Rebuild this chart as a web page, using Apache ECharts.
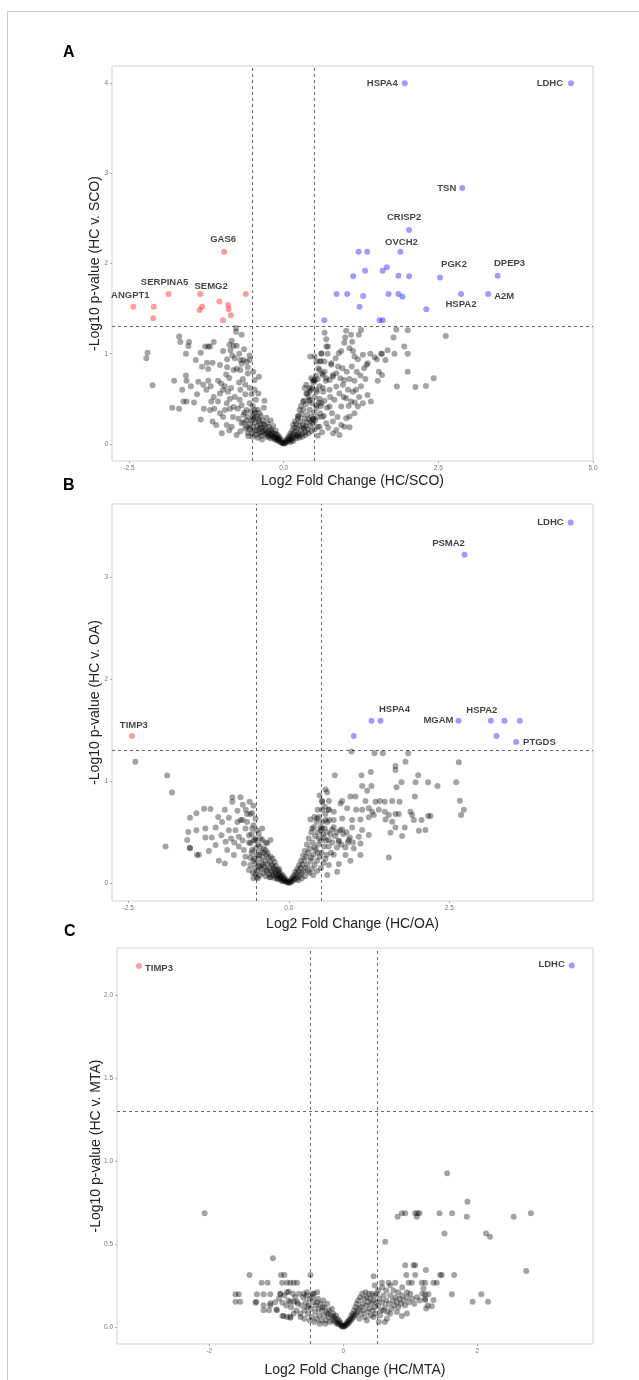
<!DOCTYPE html>
<html><head><meta charset="utf-8">
<script src="https://cdn.jsdelivr.net/npm/echarts@6/dist/echarts.min.js"></script>
<style>html,body{margin:0;padding:0;background:#fff}#c{width:639px;height:1380px}</style>
</head><body><div id="c"></div>
<script>
// ---------------- DATA ----------------
const FC_CUT = 0.5;
const P_CUT = 1.301;

const aXTicks = [-2.5, 0, 2.5, 5];
const aYTicks = [0, 1, 2, 3, 4];
const bXTicks = [-2.5, 0, 2.5];
const bYTicks = [0, 1, 2, 3];
const cXTicks = [-2, 0, 2];
const cYTicks = [0, 0.5, 1, 1.5, 2];

const aGray = [
[-2.20,1.01],[-2.22,0.95],[-2.12,0.65],[-1.69,1.19],[-1.67,1.13],[-1.53,1.13],[-1.54,1.086],[-1.58,1.0],[-1.42,0.93],[-1.34,1.01],[-1.27,1.08],[-1.22,1.08],[-1.19,1.08],[-1.13,1.13],[-1.32,0.857],[-1.24,0.90],[-1.15,0.90],[-1.22,0.83],[-1.03,0.876],
[-0.914,0.94],[-0.79,0.95],[-0.86,1.04],[-0.876,1.10],[-0.81,1.09],[-0.76,1.09],[-0.84,1.145],[-0.77,1.245],[-0.77,1.285],[-0.68,1.21],
[-0.914,0.85],[-0.81,0.82],[-0.76,0.835],[-0.70,0.82],[-0.65,0.93],[-0.60,0.91],[-0.55,0.93],[-0.68,0.89],[-0.70,0.93],
[-0.49,0.80],[-0.47,0.71],[-0.40,0.745],[-0.47,0.60],[-0.41,0.56],[-0.31,0.48],
[-1.77,0.70],[-1.57,0.70],[-1.58,0.76],[-1.38,0.69],[-1.30,0.655],[-1.22,0.70],[-1.18,0.64],[-1.06,0.70],[-1.01,0.67],[-0.95,0.64],
[-1.62,0.47],[-1.57,0.47],[-1.45,0.46],[-1.80,0.40],[-1.69,0.39],[-1.34,0.27],[-1.29,0.39],
[-1.17,0.47],[-1.13,0.52],[-1.03,0.56],[-1.06,0.47],[-1.12,0.39],
[-1.19,0.377],[-1.03,0.34],[-0.95,0.377],[-0.87,0.39],[-0.81,0.41],[-0.74,0.39],[-0.68,0.43],[-0.71,0.49],[-0.79,0.52],[-0.87,0.50],
[-1.09,0.21],[-1.00,0.12],[-0.92,0.21],[-0.84,0.19],[-0.76,0.10],[-0.68,0.23],[-0.60,0.19],[-0.57,0.085],
[-0.60,0.377],[-0.55,0.45],[-0.49,0.27],[-0.47,0.377],[-0.44,0.30],[-0.39,0.34],
[-0.98,0.60],[-0.90,0.58],[-0.85,0.62],[-0.62,0.66],[-0.66,0.72],[-0.58,0.78],[-0.55,0.62],[-0.52,0.55],[-0.62,0.55],[-0.70,0.60],[-0.72,0.68],[-0.88,0.73],[-0.93,0.77],[-0.83,0.98],[-0.72,1.00],[-0.64,1.05],[-0.98,1.03],[-0.55,0.98],[-0.58,0.85],[-0.92,0.45],[-0.98,0.30],[-0.82,0.30],[-0.73,0.28],[-0.65,0.32],[-0.88,0.15],[-0.70,0.14],[-1.15,0.25],[-1.25,0.60],[-1.40,0.55],[-1.50,0.64],[-1.64,0.60],
[-0.58,0.30],[-0.56,0.22],[-0.55,0.16],[-0.53,0.36],[-0.52,0.26],[-0.51,0.12],[-0.50,0.42],[-0.49,0.19],[-0.48,0.32],[-0.47,0.14],[-0.46,0.24],[-0.45,0.49],[-0.44,0.10],[-0.43,0.20],[-0.42,0.38],[-0.41,0.28],[-0.40,0.16],[-0.39,0.12],[-0.38,0.22],[-0.37,0.31],[-0.36,0.09],[-0.35,0.18],[-0.34,0.26],[-0.33,0.14],[-0.32,0.40],[-0.31,0.21],[-0.30,0.11],[-0.29,0.17],[-0.28,0.29],[-0.27,0.08],[-0.26,0.23],[-0.25,0.13],[-0.24,0.19],[-0.23,0.07],[-0.22,0.15],[-0.21,0.26],[-0.20,0.10],[-0.19,0.06],[-0.18,0.13],[-0.17,0.20],[-0.16,0.08],[-0.15,0.11],[-0.14,0.05],[-0.13,0.15],[-0.12,0.07],[-0.11,0.04],[-0.10,0.10],[-0.09,0.06],[-0.08,0.03],[-0.07,0.08],[-0.06,0.04],[-0.05,0.02],[-0.04,0.05],[-0.03,0.02],[-0.02,0.01],[-0.01,0.005],
[-0.54,0.18],[-0.50,0.30],[-0.46,0.35],[-0.44,0.15],[-0.40,0.25],[-0.38,0.18],[-0.36,0.13],[-0.33,0.22],[-0.30,0.15],[-0.27,0.12],[-0.25,0.09],[-0.22,0.11],[-0.20,0.16],[-0.18,0.09],[-0.15,0.07],[-0.12,0.11],[-0.10,0.05],[-0.08,0.06],[-0.35,0.05],[-0.42,0.07],[-0.50,0.08],[-0.58,0.12],[-0.62,0.17],[-0.65,0.24],[-0.63,0.35],[-0.60,0.26],
[0.01,0.005],[0.02,0.01],[0.03,0.03],[0.04,0.02],[0.05,0.05],[0.06,0.03],[0.07,0.07],[0.08,0.04],[0.09,0.09],[0.10,0.06],[0.11,0.12],[0.12,0.05],[0.13,0.09],[0.14,0.15],[0.15,0.07],[0.16,0.11],[0.17,0.18],[0.18,0.08],[0.19,0.14],[0.20,0.22],[0.21,0.10],[0.22,0.17],[0.23,0.28],[0.24,0.12],[0.25,0.20],[0.26,0.09],[0.27,0.25],[0.28,0.15],[0.29,0.33],[0.30,0.11],[0.31,0.21],[0.32,0.38],[0.33,0.17],[0.34,0.28],[0.35,0.13],[0.36,0.44],[0.37,0.24],[0.38,0.32],[0.39,0.16],[0.40,0.52],[0.41,0.27],[0.42,0.38],[0.43,0.20],[0.44,0.60],[0.45,0.30],[0.46,0.45],[0.47,0.23],[0.48,0.68],[0.49,0.35],[0.50,0.52],[0.51,0.26],[0.52,0.76],[0.53,0.40],[0.54,0.58],[0.55,0.30],[0.56,0.84],[0.57,0.46],[0.58,0.64],[0.59,0.34],[0.60,0.92],
[0.15,0.03],[0.20,0.06],[0.25,0.07],[0.30,0.08],[0.35,0.10],[0.40,0.12],[0.45,0.14],[0.50,0.16],[0.55,0.19],[0.18,0.25],[0.24,0.31],[0.28,0.42],[0.33,0.48],[0.38,0.56],[0.42,0.48],[0.46,0.62],[0.50,0.70],[0.55,0.72],[0.58,0.50],[0.60,0.42],[0.62,0.30],[0.64,0.58],[0.66,0.48],[0.68,0.70],[0.62,0.78],[0.10,0.02],[0.13,0.04],[0.22,0.09],[0.32,0.18],[0.36,0.20],[0.44,0.25],[0.48,0.28],
[0.661,1.234],[0.688,1.16],[0.715,1.08],[0.608,1.005],[0.66,0.913],[0.58,0.913],[0.769,0.894],[0.796,0.765],[0.85,0.784],[0.742,0.71],[0.661,0.80],[0.50,0.97],[0.58,0.82],[0.473,0.71],[0.419,0.62],[0.366,0.56],
[0.69,1.08],[0.61,1.0],[0.71,1.0],[0.43,0.97],[0.53,0.913],
[1.01,1.256],[0.995,1.18],[1.09,1.21],[1.215,1.21],[1.25,1.264],[1.107,1.134],[0.98,1.123],
[0.93,1.03],[0.89,1.005],[0.84,0.95],[0.77,0.877],[1.065,1.06],[1.12,1.03],[1.145,0.97],[1.2,0.94],[1.28,0.99],[1.40,1.0],[1.36,0.894],[1.34,0.877],[1.30,0.84],[1.47,0.96],[1.505,0.94],[1.575,1.0],[1.645,0.93],[1.68,1.04],[1.59,1.0],
[1.82,1.27],[1.775,1.18],[2.005,1.26],[1.95,1.08],[2.005,1.0],[1.79,1.0],[2.62,1.197],[2.425,0.728],[2.30,0.643],[2.13,0.63],[1.83,0.636],[2.005,0.80],
[1.54,0.80],[1.59,0.765],[1.52,0.70],[1.32,0.72],[1.145,0.70],[1.065,0.72],[0.98,0.71],[0.914,0.728],[0.796,0.745],[0.688,0.728],[0.634,0.765],[0.50,0.71],[0.446,0.728],[0.366,0.655],[0.34,0.62],[0.42,0.58],[0.527,0.60],[0.634,0.62],[0.742,0.60],[0.85,0.636],[0.957,0.655],[1.04,0.60],[1.12,0.58],[1.17,0.60],
[1.355,0.543],[1.41,0.47],[1.28,0.45],[1.2,0.414],[1.09,0.47],[1.01,0.507],[0.93,0.414],[0.82,0.49],[0.742,0.414],[0.61,0.45],[0.527,0.43],[0.42,0.49],[0.312,0.47],
[1.145,0.34],[1.065,0.303],[1.01,0.285],[0.93,0.21],[0.98,0.19],[1.065,0.186],[0.85,0.156],[0.796,0.248],[0.688,0.23],[0.58,0.19],[0.473,0.267],[0.258,0.377],[0.23,0.303],[0.151,0.21],
[0.88,0.86],[0.95,0.84],[1.02,0.80],[1.10,0.86],[1.18,0.80],[1.24,0.76],[0.90,0.56],[0.97,0.52],[1.05,0.42],[1.15,0.46],[1.22,0.52],[1.25,0.64],[0.75,0.52],[0.70,0.40],[0.78,0.34],[0.87,0.30],[0.65,0.31],[0.72,0.18],[0.62,0.13],[0.55,0.09],[0.80,0.12],[0.90,0.10]
];
const aRed = [
[-0.962,2.132,'GAS6'],[-2.43,1.522,'ANGPT1'],[-2.10,1.52],[-2.11,1.393],[-1.86,1.663,'SERPINA5'],[-1.35,1.663,'SEMG2'],[-1.32,1.52],[-1.36,1.486],[-1.04,1.578],[-0.898,1.541],[-0.89,1.493],[-0.855,1.427],[-0.98,1.371],[-0.613,1.663]
];
const aBlue = [
[4.645,4.0,'LDHC'],[1.957,4.0,'HSPA4'],[2.887,2.838,'TSN'],[2.027,2.372,'CRISP2'],[1.887,2.132,'OVCH2'],[1.21,2.13],[1.35,2.13],[2.527,1.844,'PGK2'],[3.457,1.866,'DPEP3'],[2.866,1.663,'HSPA2'],[3.306,1.663,'A2M'],
[1.124,1.859],[1.317,1.921],[1.60,1.92],[1.667,1.959],[1.855,1.866],[2.027,1.859],[0.855,1.663],[1.027,1.663],[1.285,1.641],[1.694,1.663],[1.855,1.663],[1.919,1.633],[1.226,1.522],[2.306,1.493],[0.656,1.371],[1.548,1.371],[1.60,1.371]
];

const bGray = [
[-2.39,1.19],[-1.895,1.056],[-1.82,0.89],[-1.92,0.36],
[-1.54,0.643],[-1.44,0.686],[-1.22,0.728],[-0.997,0.72],[-0.88,0.842],[-0.753,0.842],[-0.88,0.80],[-0.61,0.80],[-0.717,0.77],
[-1.565,0.502],[-1.44,0.52],[-1.30,0.537],[-1.14,0.547],[-1.04,0.60],[-0.934,0.643],[-0.80,0.71],[-0.67,0.72],[-0.57,0.69],[-0.52,0.636],
[-1.583,0.424],[-1.54,0.349],[-1.40,0.28],[-1.245,0.316],[-1.09,0.22],[-0.997,0.195],[-1.14,0.376],[-0.986,0.408],[-0.934,0.52],[-0.83,0.52],[-0.779,0.457],[-0.675,0.537],[-0.57,0.537],
[-0.96,0.327],[-0.856,0.278],[-0.779,0.36],[-0.70,0.327],[-0.597,0.392],[-0.52,0.424],[-0.467,0.49],[-0.415,0.537],
[-0.415,0.424],[-0.337,0.392],[-0.285,0.424],[-0.363,0.327],[-0.467,0.278],[-0.57,0.327],[-0.675,0.26],[-0.70,0.195],[-0.62,0.13],[-0.52,0.098],
[-1.20,0.45],[-1.05,0.47],[-0.90,0.44],[-0.75,0.62],[-0.65,0.60],[-0.62,0.47],[-0.55,0.57],[-0.50,0.52],[-0.45,0.36],[-0.40,0.30],[-0.55,0.22],[-0.60,0.25],[-0.72,0.42],[-0.85,0.40],[-0.65,0.68],[-0.72,0.62],[-1.10,0.65],[-1.30,0.45],[-0.80,0.60],[-0.55,0.76],[-0.60,0.68],
[-1.54,0.343],[-1.43,0.278],[-1.32,0.73],
[-0.60,0.18],[-0.58,0.30],[-0.56,0.10],[-0.55,0.42],[-0.54,0.24],[-0.53,0.15],[-0.52,0.34],[-0.51,0.20],[-0.50,0.28],[-0.49,0.12],[-0.48,0.38],[-0.47,0.17],[-0.46,0.24],[-0.45,0.08],[-0.44,0.31],[-0.43,0.14],[-0.42,0.20],[-0.41,0.26],[-0.40,0.10],[-0.39,0.34],[-0.38,0.16],[-0.37,0.22],[-0.36,0.07],[-0.35,0.28],[-0.34,0.13],[-0.33,0.19],[-0.32,0.25],[-0.31,0.09],[-0.30,0.15],[-0.29,0.21],[-0.28,0.06],[-0.27,0.12],[-0.26,0.18],[-0.25,0.24],[-0.24,0.08],[-0.23,0.14],[-0.22,0.05],[-0.21,0.11],[-0.20,0.17],[-0.19,0.07],[-0.18,0.13],[-0.17,0.04],[-0.16,0.09],[-0.15,0.14],[-0.14,0.05],[-0.13,0.10],[-0.12,0.03],[-0.11,0.07],[-0.10,0.04],[-0.09,0.08],[-0.08,0.03],[-0.07,0.05],[-0.06,0.02],[-0.05,0.04],[-0.04,0.02],[-0.03,0.01],[-0.02,0.02],[-0.01,0.005],
[-0.62,0.40],[-0.58,0.48],[-0.52,0.44],[-0.48,0.05],[-0.44,0.44],[-0.40,0.18],[-0.36,0.40],[-0.33,0.30],[-0.30,0.06],[-0.28,0.26],[-0.26,0.10],[-0.24,0.16],[-0.22,0.21],[-0.20,0.09],[-0.18,0.05],[-0.16,0.12],[-0.14,0.08],[-0.12,0.06],[-0.10,0.02],[-0.35,0.12],[-0.45,0.16],[-0.50,0.06],[-0.55,0.05],
[0.01,0.005],[0.02,0.02],[0.03,0.01],[0.04,0.04],[0.05,0.02],[0.06,0.06],[0.07,0.03],[0.08,0.08],[0.09,0.05],[0.10,0.11],[0.11,0.04],[0.12,0.09],[0.13,0.14],[0.14,0.06],[0.15,0.12],[0.16,0.18],[0.17,0.08],[0.18,0.15],[0.19,0.22],[0.20,0.10],[0.21,0.18],[0.22,0.27],[0.23,0.12],[0.24,0.22],[0.25,0.32],[0.26,0.15],[0.27,0.26],[0.28,0.38],[0.29,0.18],[0.30,0.30],[0.31,0.44],[0.32,0.10],[0.33,0.34],[0.34,0.22],[0.35,0.50],[0.36,0.14],[0.37,0.40],[0.38,0.28],[0.39,0.55],[0.40,0.18],[0.41,0.46],[0.42,0.33],[0.43,0.60],[0.44,0.22],[0.45,0.50],[0.46,0.38],[0.47,0.65],[0.48,0.26],[0.49,0.55],[0.50,0.42],[0.51,0.30],[0.52,0.60],[0.53,0.48],[0.54,0.20],[0.55,0.36],[0.56,0.54],[0.57,0.68],[0.58,0.42],[0.59,0.28],[0.60,0.60],
[0.15,0.03],[0.20,0.05],[0.25,0.07],[0.30,0.12],[0.35,0.25],[0.40,0.35],[0.45,0.30],[0.50,0.52],[0.55,0.45],[0.60,0.50],[0.38,0.08],[0.44,0.12],[0.50,0.15],[0.57,0.24],[0.62,0.36],[0.65,0.48],[0.68,0.40],[0.70,0.55],[0.63,0.62],[0.66,0.30],[0.72,0.46],[0.75,0.50],[0.78,0.42],[0.80,0.52],[0.85,0.48],[0.90,0.50],[0.95,0.45],[0.70,0.28],[0.75,0.35],[0.82,0.38],[0.88,0.35],[0.92,0.40],[1.0,0.40],[0.45,0.72],[0.52,0.80],[0.48,0.86],[0.56,0.75],[0.40,0.65],[0.62,0.72],
[0.976,1.29],[1.335,1.273],[1.464,1.273],[1.859,1.273],[1.817,1.19],[1.661,1.149],[1.661,1.11],[2.648,1.186],[2.607,0.99],[2.664,0.81],[2.726,0.72],[2.684,0.669],
[0.717,1.058],[1.132,1.058],[1.277,1.09],[2.015,1.058],[1.973,0.99],[2.17,0.99],[2.316,0.953],[1.755,0.99],[1.677,0.94],[1.142,0.953],[1.287,0.953],[1.22,0.907],
[0.571,0.92],[0.597,0.891],[0.519,0.806],[0.623,0.806],[0.831,0.806],[0.805,0.783],[0.96,0.85],[1.038,0.85],[1.194,0.806],[1.35,0.80],[1.417,0.806],[1.495,0.80],[1.61,0.806],[1.724,0.80],[1.963,0.85],
[0.519,0.72],[0.623,0.72],[0.70,0.70],[0.908,0.736],[1.048,0.72],[1.142,0.72],[1.246,0.736],[1.298,0.70],[1.402,0.72],[1.495,0.70],[1.558,0.669],[1.661,0.679],[1.713,0.679],[1.895,0.70],[1.921,0.669],[1.947,0.62],[2.067,0.62],[2.17,0.66],[2.207,0.66],
[0.337,0.626],[0.441,0.636],[0.571,0.62],[0.70,0.62],[0.831,0.636],[0.986,0.62],[1.116,0.626],[1.246,0.646],[1.324,0.669],[1.506,0.626],[1.61,0.604],[1.661,0.548],[1.584,0.496],[1.765,0.463],[1.806,0.548],[2.025,0.516],[2.128,0.522],
[0.363,0.538],[0.519,0.538],[0.675,0.528],[0.831,0.528],[0.986,0.548],[1.142,0.522],[1.246,0.473],[1.09,0.457],[0.934,0.424],[0.779,0.408],[0.623,0.424],[0.467,0.441],[1.116,0.391],[1.012,0.342],[0.883,0.277],[1.116,0.277],[0.96,0.22],[0.779,0.189],[0.623,0.179],[0.753,0.114],[1.558,0.254],[0.60,0.081]
];
const bRed = [[-2.445,1.443,'TIMP3']];
const bBlue = [
[4.39,3.535,'LDHC'],[2.737,3.218,'PSMA2'],[1.288,1.593],[1.428,1.593,'HSPA4'],[2.643,1.593,'MGAM'],[3.146,1.593,'HSPA2'],[3.36,1.593],[3.598,1.593],[3.235,1.443],[3.54,1.384,'PTGDS'],[1.012,1.443]
];

const cGray = [
[-2.07,0.685],[-1.05,0.414],[-1.40,0.313],[-0.49,0.313],[-0.93,0.313],[-0.88,0.313],
[-1.22,0.267],[-1.13,0.267],[-0.913,0.267],[-0.84,0.267],[-0.79,0.267],[-0.74,0.267],[-0.69,0.267],
[-1.61,0.197],[-1.56,0.197],[-1.61,0.152],[-1.54,0.152],
[-1.31,0.146],[-1.29,0.197],[-1.19,0.197],[-1.19,0.102],[-1.09,0.143],[-1.11,0.102],[-1.09,0.197],[-0.94,0.197],[-0.91,0.146],[-0.99,0.102],[-0.815,0.213],[-0.74,0.152],[-0.79,0.062],[-0.89,0.066],
[-1.30,0.152],[-1.19,0.132],[-1.09,0.132],[-1.0,0.106],[-0.91,0.066],[-0.84,0.06],[-0.79,0.056],[-0.74,0.082],[-0.64,0.06],[-0.94,0.2],[-0.84,0.21],[-0.79,0.152],[-0.69,0.152],[-0.59,0.2],[-0.54,0.21],[-0.46,0.2],[-0.39,0.21],
[-0.62,0.13],[-0.60,0.18],[-0.58,0.10],[-0.56,0.15],[-0.55,0.19],[-0.53,0.08],[-0.52,0.13],[-0.50,0.17],[-0.48,0.11],[-0.47,0.06],[-0.45,0.15],[-0.44,0.20],[-0.42,0.09],[-0.41,0.13],[-0.40,0.05],[-0.38,0.17],[-0.37,0.11],[-0.36,0.07],[-0.34,0.14],[-0.33,0.04],[-0.32,0.10],[-0.30,0.16],[-0.29,0.07],[-0.28,0.12],[-0.26,0.04],[-0.25,0.09],[-0.24,0.14],[-0.22,0.06],[-0.21,0.10],[-0.20,0.03],[-0.18,0.07],[-0.17,0.11],[-0.16,0.04],[-0.15,0.08],[-0.13,0.05],[-0.12,0.03],[-0.11,0.07],[-0.10,0.02],[-0.09,0.05],[-0.08,0.03],[-0.07,0.02],[-0.06,0.04],[-0.05,0.015],[-0.04,0.025],[-0.03,0.01],[-0.02,0.005],[-0.01,0.003],
[-0.66,0.20],[-0.64,0.08],[-0.68,0.14],[-0.70,0.10],[-0.72,0.18],[-0.75,0.20],[-0.78,0.12],[-0.82,0.16],[-0.85,0.13],[-0.88,0.19],[-0.96,0.17],[-1.02,0.15],[-0.58,0.05],[-0.50,0.04],[-0.43,0.03],[-0.35,0.02],[-0.27,0.02],[-0.54,0.12],[-0.46,0.18],[-0.39,0.15],[-0.31,0.12],[-0.23,0.08],[-0.14,0.06],
[0.01,0.003],[0.02,0.006],[0.03,0.01],[0.04,0.02],[0.05,0.015],[0.06,0.03],[0.07,0.02],[0.08,0.04],[0.09,0.03],[0.10,0.05],[0.11,0.04],[0.12,0.07],[0.13,0.05],[0.14,0.08],[0.15,0.06],[0.16,0.10],[0.17,0.07],[0.18,0.12],[0.19,0.08],[0.20,0.14],[0.21,0.09],[0.22,0.16],[0.23,0.11],[0.24,0.05],[0.25,0.18],[0.26,0.12],[0.27,0.08],[0.28,0.20],[0.29,0.14],[0.30,0.10],[0.31,0.17],[0.32,0.06],[0.33,0.21],[0.34,0.13],[0.35,0.18],[0.36,0.09],[0.37,0.15],[0.38,0.20],[0.39,0.11],[0.40,0.17],[0.41,0.07],[0.42,0.14],[0.43,0.20],[0.44,0.10],[0.45,0.16],[0.46,0.19],[0.47,0.12],[0.48,0.08],[0.49,0.15],[0.50,0.20],[0.52,0.13],[0.54,0.17],[0.56,0.10],[0.58,0.15],[0.60,0.19],[0.62,0.12],[0.64,0.16],[0.66,0.09],[0.68,0.14],[0.70,0.19],[0.72,0.11],[0.74,0.16],[0.76,0.13],[0.78,0.18],[0.80,0.15],[0.82,0.12],[0.84,0.17],[0.86,0.14],[0.88,0.19],[0.90,0.16],[0.92,0.13],[0.95,0.18],[0.98,0.15],[1.00,0.20],[1.03,0.17],[1.06,0.14],[1.10,0.18],[1.14,0.16],[1.18,0.20],[1.22,0.17],[1.26,0.13],
[0.35,0.04],[0.45,0.06],[0.55,0.07],[0.65,0.05],[0.52,0.22],[0.58,0.24],[0.64,0.22],[0.70,0.25],[0.75,0.22],[0.82,0.21],[0.88,0.24],[0.95,0.21],[0.60,0.10],[0.70,0.08],[0.80,0.09],[0.47,0.25],[0.53,0.03],[0.62,0.03],
[0.626,0.514],[0.81,0.665],[0.874,0.685],[0.924,0.685],[1.073,0.685],[1.108,0.685],[1.137,0.685],[1.098,0.665],[1.436,0.685],[1.625,0.685],[1.843,0.665],[2.543,0.665],[2.80,0.685],[1.55,0.926],[1.853,0.755],[1.51,0.564],[2.13,0.564],[2.19,0.544],[2.73,0.337],
[0.924,0.373],[1.073,0.373],[1.048,0.373],[1.232,0.343],[0.94,0.313],[1.073,0.313],[1.47,0.313],[1.655,0.313],[1.446,0.313],
[0.676,0.267],[0.775,0.267],[0.974,0.267],[1.023,0.267],[1.172,0.267],[1.222,0.267],[1.346,0.267],[1.395,0.267],[0.576,0.267],[0.452,0.306],
[1.62,0.197],[1.93,0.152],[2.06,0.197],[2.16,0.152],
[1.197,0.233],[1.222,0.197],[1.27,0.197],[1.346,0.163],[1.222,0.163],[1.32,0.126],[1.237,0.112],[0.874,0.066],[0.949,0.082]
];
const cRed = [[-3.05,2.175,'TIMP3']];
const cBlue = [[3.41,2.177,'LDHC']];

// ---------------- STYLES ----------------
const FONT = 'Liberation Sans, Arial, Helvetica, sans-serif';
const labelPlace = {
  A: {
    LDHC:{position:'left',distance:5}, HSPA4:{position:'left',distance:4}, TSN:{position:'left',distance:3},
    CRISP2:{position:'top',offset:[-5,0]}, OVCH2:{position:'top',offset:[1,4]}, PGK2:{position:'top',offset:[14,0]},
    DPEP3:{position:'top',offset:[12,1]}, HSPA2:{position:'bottom',offset:[0,-3]}, A2M:{position:'right',distance:3,offset:[0,2]},
    GAS6:{position:'top',offset:[-1,1]}, SERPINA5:{position:'top',offset:[-4,1]}, SEMG2:{position:'top',offset:[11,5]},
    ANGPT1:{position:'top',offset:[-3,2]}
  },
  B: {
    LDHC:{position:'left',distance:4}, PSMA2:{position:'top',offset:[-16,2]}, HSPA4:{position:'top',offset:[14,2]},
    MGAM:{position:'left',distance:2}, HSPA2:{position:'top',offset:[-9,3]}, PTGDS:{position:'right',distance:4},
    TIMP3:{position:'top',offset:[2,2]}
  },
  C: {
    TIMP3:{position:'right',distance:3,offset:[0,2]}, LDHC:{position:'left',distance:4,offset:[0,-1]}
  }
};

function toData(arr, panel) {
  return arr.map(p => {
    const d = {value:[p[0], p[1]]};
    if (p[2]) {
      d.name = p[2];
      d.label = Object.assign({show:true, formatter:p[2], fontSize:9.5, fontWeight:'bold', color:'#111', fontFamily:FONT}, labelPlace[panel][p[2]]);
    }
    return d;
  });
}

const panels = [
  {key:'A', gray:aGray, red:aRed, blue:aBlue, xt:aXTicks, yt:aYTicks, xmin:-2.775, xmax:5.0, ymin:-0.189, ymax:4.19,
   grid:{left:112, top:66, width:481, height:395}, xname:'Log2 Fold Change (HC/SCO)', yname:'-Log10 p-value (HC v. SCO)', xfmt:v=>v.toFixed(1), yfmt:v=>String(v), xgap:13, ygap:10},
  {key:'B', gray:bGray, red:bRed, blue:bBlue, xt:bXTicks, yt:bYTicks, xmin:-2.754, xmax:4.738, ymin:-0.173, ymax:3.715,
   grid:{left:112, top:504, width:481, height:397}, xname:'Log2 Fold Change (HC/OA)', yname:'-Log10 p-value (HC v. OA)', xfmt:v=>v.toFixed(1), yfmt:v=>String(v), xgap:16, ygap:10},
  {key:'C', gray:cGray, red:cRed, blue:cBlue, xt:cXTicks, yt:cYTicks, xmin:-3.378, xmax:3.727, ymin:-0.102, ymax:2.283,
   grid:{left:117, top:948, width:476, height:396}, xname:'Log2 Fold Change (HC/MTA)', yname:'-Log10 p-value (HC v. MTA)', xfmt:v=>String(v), yfmt:v=>v.toFixed(1), xgap:19, ygap:14}
];

const grids = [], xAxes = [], yAxes = [], series = [];
const tickLbl = {fontSize:6.5, color:'#777', fontFamily:FONT};
const nameStyle = {fontSize:14, color:'#222', fontFamily:FONT};
panels.forEach((p, i) => {
  grids.push(Object.assign({show:true, borderColor:'#d2d2d2', borderWidth:1, backgroundColor:'#fff'}, p.grid));
  xAxes.push({type:'value', gridIndex:i, min:p.xmin, max:p.xmax, splitLine:{show:false}, axisLine:{show:false, onZero:false},
    axisTick:{show:true, length:2, lineStyle:{color:'#aaa'}, customValues:p.xt},
    axisLabel:Object.assign({margin:4, customValues:p.xt, formatter:p.xfmt}, tickLbl),
    name:p.xname, nameLocation:'middle', nameGap:p.xgap, nameMoveOverlap:false, nameTextStyle:nameStyle});
  yAxes.push({type:'value', gridIndex:i, min:p.ymin, max:p.ymax, splitLine:{show:false}, axisLine:{show:false, onZero:false},
    axisTick:{show:true, length:2, lineStyle:{color:'#aaa'}, customValues:p.yt},
    axisLabel:Object.assign({margin:4, customValues:p.yt, formatter:p.yfmt}, tickLbl),
    name:p.yname, nameLocation:'middle', nameGap:p.ygap, nameRotate:90, nameMoveOverlap:false, nameTextStyle:nameStyle});
  series.push({type:'scatter', xAxisIndex:i, yAxisIndex:i, symbolSize:6, data:toData(p.gray, p.key),
    itemStyle:{color:'rgba(0,0,0,0.45)'}, silent:true, z:3,
    markLine:{silent:true, symbol:'none', label:{show:false}, animation:false, z:2,
      lineStyle:{type:[3,3], color:'#666', width:1},
      data:[{xAxis:-FC_CUT},{xAxis:FC_CUT},{yAxis:P_CUT}]}});
  series.push({type:'scatter', xAxisIndex:i, yAxisIndex:i, symbolSize:6, data:toData(p.red, p.key),
    itemStyle:{color:'rgba(255,0,0,0.48)'}, silent:true, z:4});
  series.push({type:'scatter', xAxisIndex:i, yAxisIndex:i, symbolSize:6, data:toData(p.blue, p.key),
    itemStyle:{color:'rgba(0,0,255,0.48)'}, silent:true, z:4});
});

const chart = echarts.init(document.getElementById('c'), null, {renderer:'canvas'});
chart.setOption({
  animation:false,
  backgroundColor:'#fff',
  grid:grids, xAxis:xAxes, yAxis:yAxes, series:series,
  graphic:[
    {type:'rect', shape:{x:7.5, y:11.5, width:700, height:1400}, style:{fill:'none', stroke:'#c9c9c9', lineWidth:1}, z:-1},
    {type:'text', left:63, top:45, style:{text:'A', font:'bold 16px Liberation Sans', fill:'#000'}},
    {type:'text', left:63, top:478, style:{text:'B', font:'bold 16px Liberation Sans', fill:'#000'}},
    {type:'text', left:64, top:924, style:{text:'C', font:'bold 16px Liberation Sans', fill:'#000'}}
  ]
});
</script>
</body></html>
